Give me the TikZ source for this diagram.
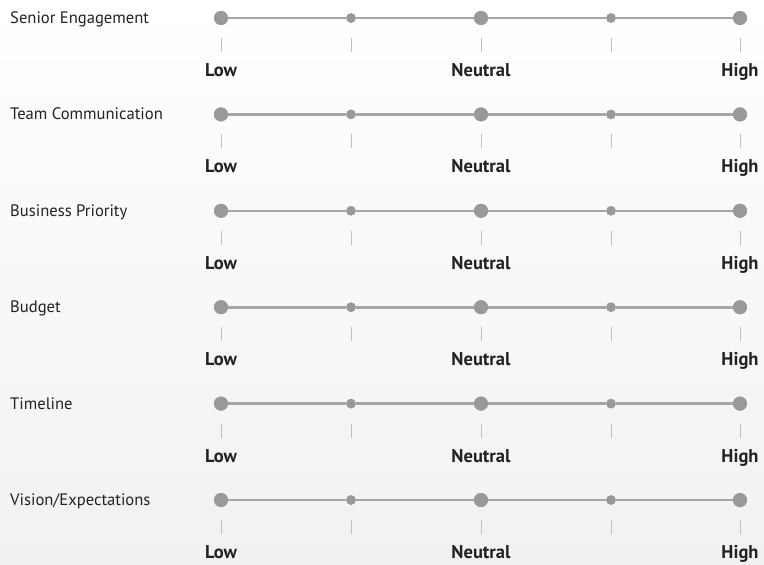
\documentclass[tikz,border=0pt]{standalone}
\usepackage{fontspec}
\setmainfont{PT Sans}
\begin{document}
\begin{tikzpicture}[x=1pt,y=-1pt,
  bigdot/.style={circle,fill=dotgray,inner sep=0pt,minimum size=14pt},
  smalldot/.style={circle,fill=dotgray,inner sep=0pt,minimum size=9.5pt},
  scaleline/.style={draw=linegray,line width=2.6pt},
  tickline/.style={draw=tickgray,line width=0.9pt},
  rowlabel/.style={anchor=base west,font=\fontsize{16.6}{18}\selectfont,text=textdark,inner sep=0pt},
  endlabel/.style={anchor=base,font=\bfseries\fontsize{18.5}{20}\selectfont,text=textdark,inner sep=0pt}]
\definecolor{dotgray}{HTML}{999999}
\definecolor{linegray}{HTML}{A6A6A6}
\definecolor{tickgray}{HTML}{C0C0C0}
\definecolor{textdark}{HTML}{222222}
\definecolor{bgtop}{HTML}{FFFFFF}
\definecolor{bgbot}{HTML}{F1F1F1}
\shade[top color=bgtop,bottom color=bgbot] (0,0) rectangle (764,565);
\useasboundingbox (0,0) rectangle (764,565);
\foreach \name [count=\i] in {Senior Engagement,Team Communication,Business Priority,Budget,Timeline,Vision/Expectations}{
  \pgfmathsetmacro{\yy}{18+96.4*(\i-1)}
  \node[rowlabel] (lab\i) at (10,\yy+5.5) {\name};
  \node[bigdot] (p\i a) at (221,\yy) {};
  \node[smalldot] (p\i b) at (351,\yy) {};
  \node[bigdot] (p\i c) at (481,\yy) {};
  \node[smalldot] (p\i d) at (611,\yy) {};
  \node[bigdot] (p\i e) at (740,\yy) {};
  \foreach \k/\xx in {a/221,b/351,c/481,d/611,e/740}{
    \coordinate (t\i\k1) at (\xx,\yy+20);
    \coordinate (t\i\k2) at (\xx,\yy+34);
    \draw[tickline] (t\i\k1) -- (t\i\k2);
  }
  \node[endlabel] (low\i) at (221,\yy+58.5) {Low};
  \node[endlabel] (neu\i) at (481,\yy+58.5) {Neutral};
  \node[endlabel] (high\i) at (740,\yy+58.5) {High};
}
\foreach \i in {1,...,6}{
  \draw[scaleline] (p\i a) -- (p\i b) -- (p\i c) -- (p\i d) -- (p\i e);
  \node[bigdot] at (p\i a) {};
  \node[smalldot] at (p\i b) {};
  \node[bigdot] at (p\i c) {};
  \node[smalldot] at (p\i d) {};
  \node[bigdot] at (p\i e) {};
}
\end{tikzpicture}
\end{document}
